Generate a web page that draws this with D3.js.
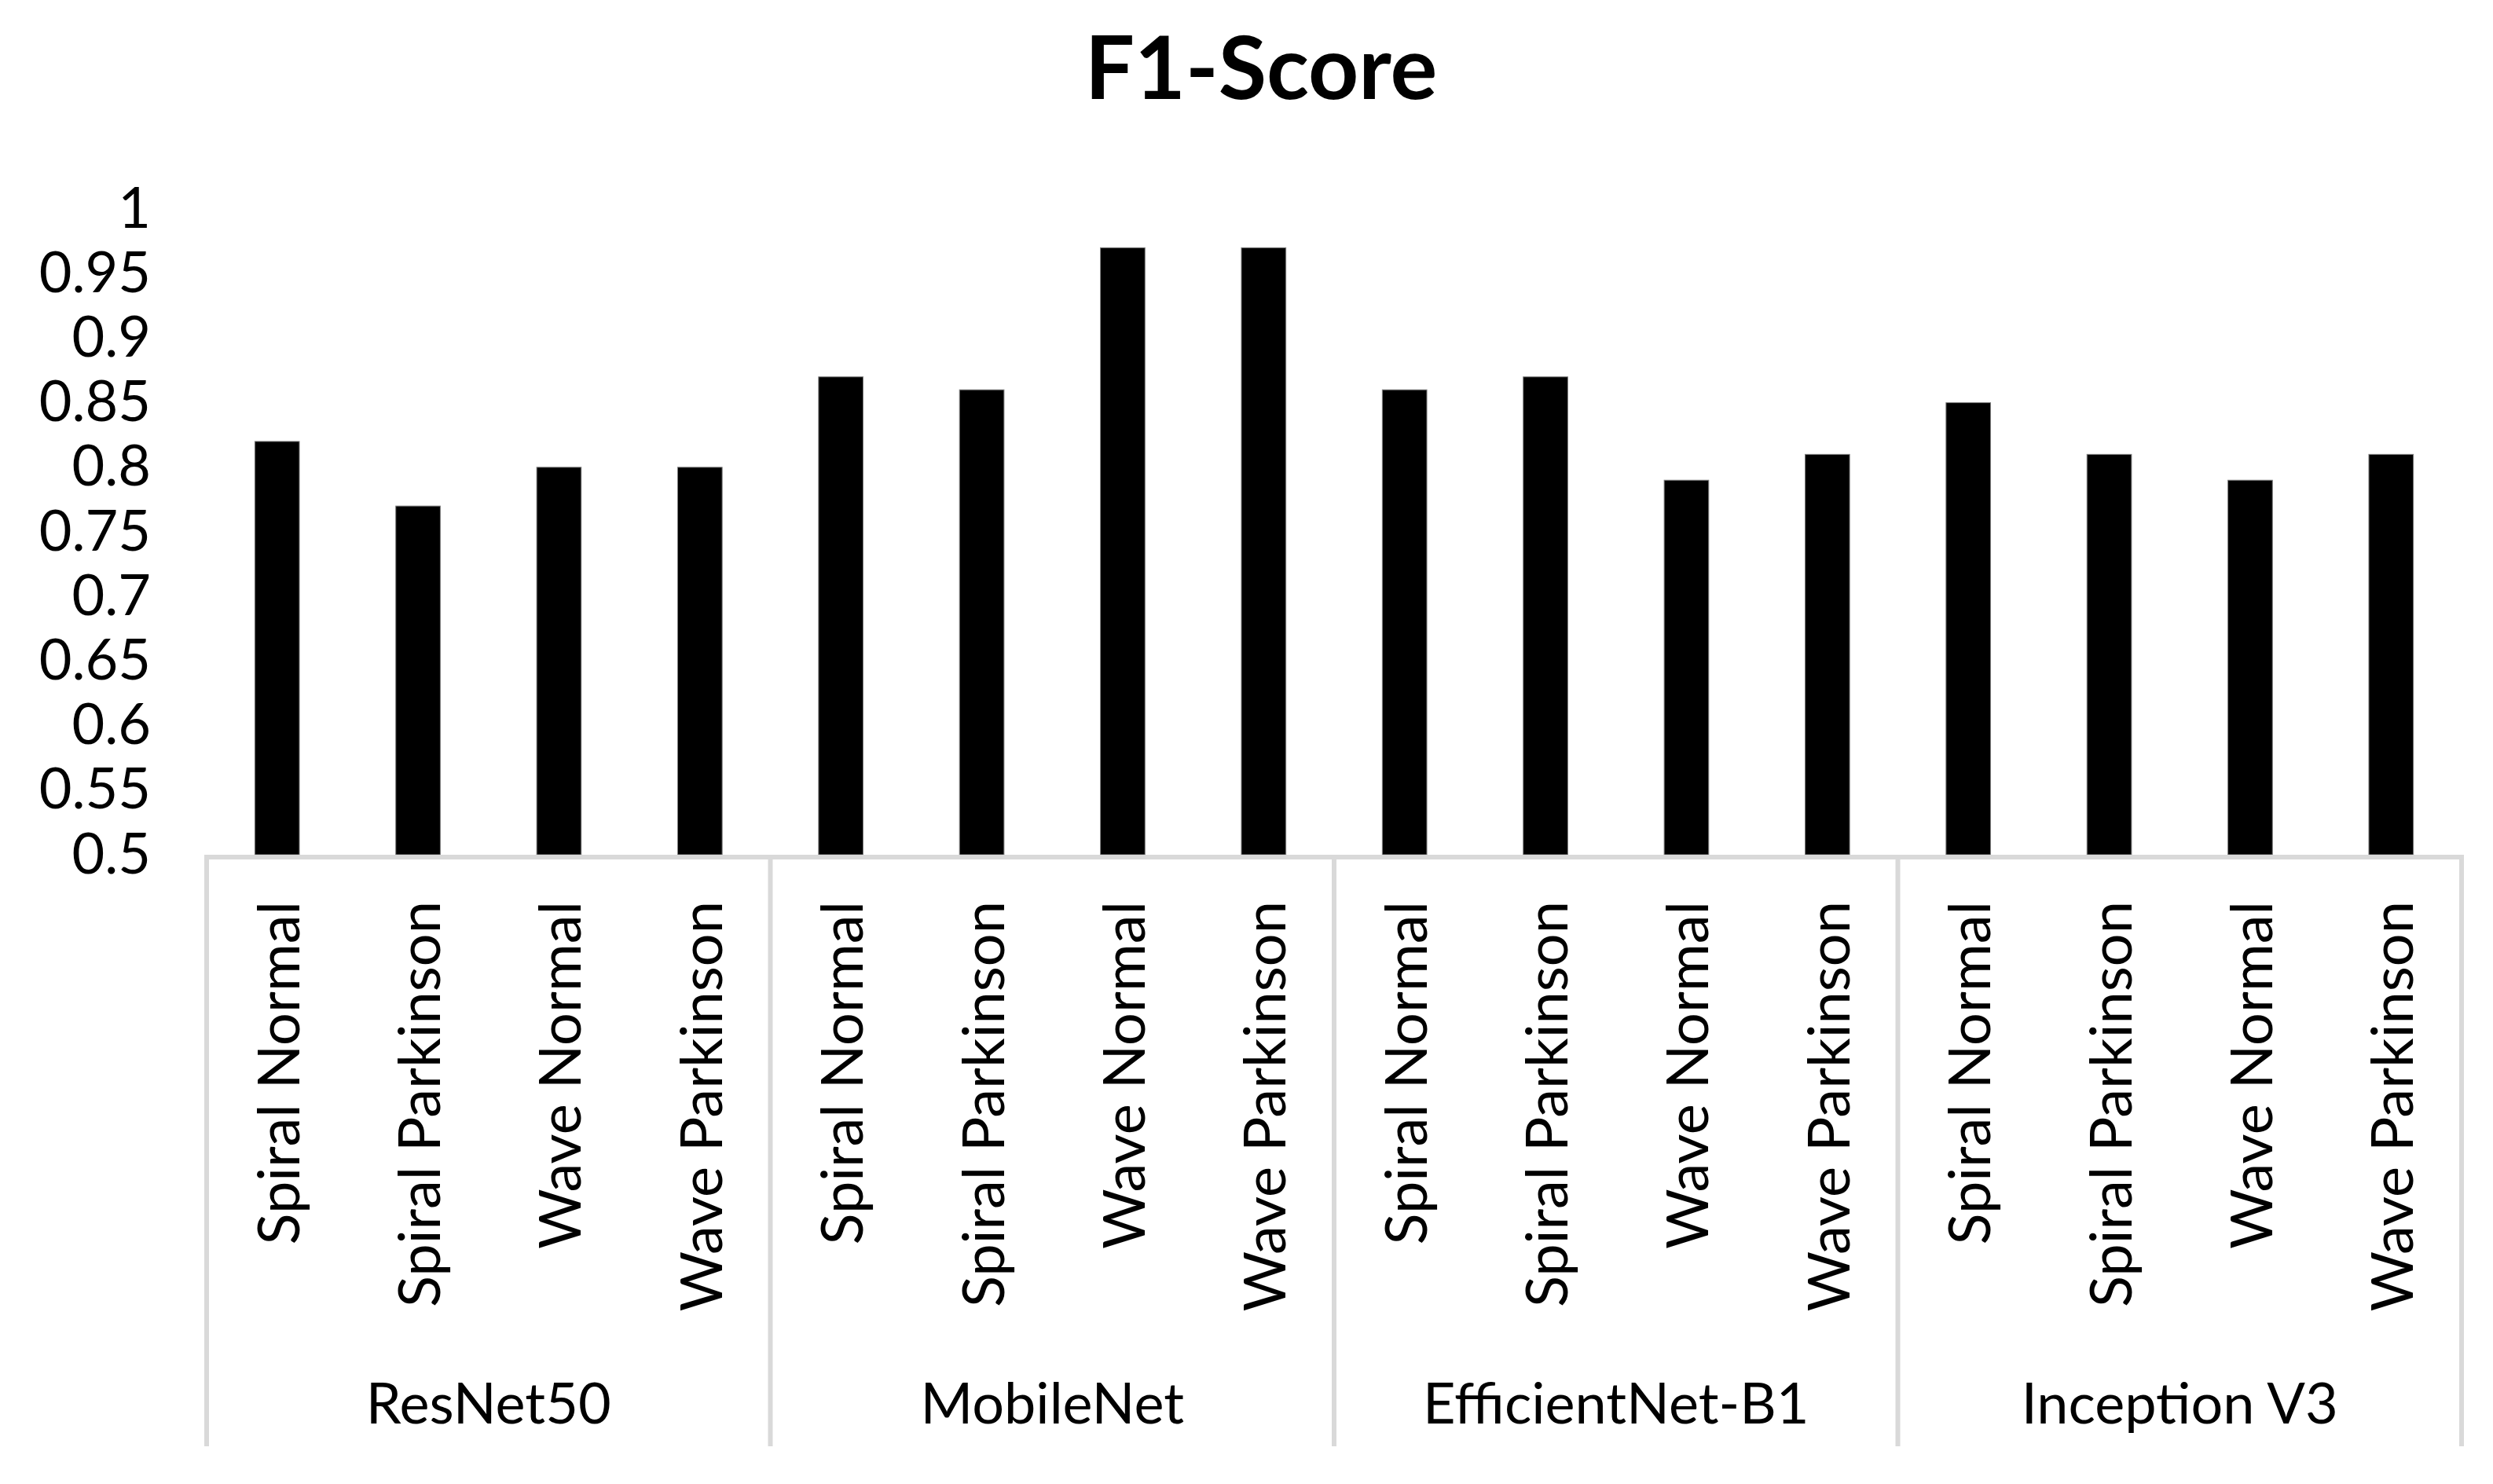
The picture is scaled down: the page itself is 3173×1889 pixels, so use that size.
<!DOCTYPE html>
<html>
<head>
<meta charset="utf-8">
<script src="https://cdn.jsdelivr.net/npm/d3@7"></script>
<style>
  html, body { margin: 0; padding: 0; background: #ffffff; }
  svg { display: block; }
</style>
</head>
<body>
<script>
// ---- data ----
const groups = ["ResNet50", "MobileNet", "EfficientNet-B1", "Inception V3"];
const subCategories = ["Spiral Normal", "Spiral Parkinson", "Wave Normal", "Wave Parkinson"];
const resnet50 = [0.82, 0.77, 0.80, 0.80];
const mobilenet = [0.87, 0.86, 0.97, 0.97];
const efficientnetB1 = [0.86, 0.87, 0.79, 0.81];
const inceptionV3 = [0.85, 0.81, 0.79, 0.81];
const yTicks = [0.5, 0.55, 0.6, 0.65, 0.7, 0.75, 0.8, 0.85, 0.9, 0.95, 1];
const chartTitle = "F1-Score";

(function () {
  // ---- build rows ----
  const seriesByGroup = [resnet50, mobilenet, efficientnetB1, inceptionV3];
  const rows = [];
  groups.forEach((g, gi) => {
    subCategories.forEach((s, si) => {
      rows.push({ key: g + "|" + s, group: g, sub: s, value: seriesByGroup[gi][si] });
    });
  });

  // ---- layout ----
  const W = 3173, H = 1889;
  const plotLeft = 263, plotRight = 3133, plotTop = 266, plotBase = 1088, bottomLine = 1841;
  const font = "Lato, 'Open Sans', sans-serif";

  const svg = d3.select("body").append("svg")
    .attr("width", W).attr("height", H)
    .style("background", "#ffffff");

  const x = d3.scaleBand().domain(rows.map(d => d.key)).range([plotLeft, plotRight]).padding(0);
  const y = d3.scaleLinear().domain([0.5, 1]).range([plotBase, plotTop]);
  const barW = x.step() * 0.316;

  // title
  svg.append("text")
    .attr("x", 1605).attr("y", 126)
    .attr("text-anchor", "middle")
    .style("font-family", font).style("font-weight", 700).style("font-size", "112px")
    .attr("fill", "#000")
    .text(chartTitle);

  // y axis (labels only)
  const yAxis = d3.axisLeft(y).tickValues(yTicks).tickFormat(d => String(+d.toFixed(2))).tickSize(0).tickPadding(0);
  const yg = svg.append("g").attr("transform", "translate(192,0)").call(yAxis);
  yg.select(".domain").remove();
  yg.selectAll("text")
    .style("font-family", font).style("font-size", "72px").attr("fill", "#000");

  // bars
  svg.append("g").selectAll("rect").data(rows).join("rect")
    .attr("x", d => x(d.key) + (x.step() - barW) / 2)
    .attr("y", d => y(d.value))
    .attr("width", barW)
    .attr("height", d => y(0.5) - y(d.value))
    .attr("fill", "#000")
    .attr("stroke", "#7f7f7f").attr("stroke-width", 1);

  // category axis line
  const lineColor = "#d9d9d9";
  svg.append("line")
    .attr("x1", plotLeft).attr("x2", plotRight)
    .attr("y1", plotBase + 3).attr("y2", plotBase + 3)
    .attr("stroke", lineColor).attr("stroke-width", 6);

  // group separators
  const boundaries = groups.map(g => x(g + "|" + subCategories[0])).concat([plotRight]);
  svg.append("g").selectAll("line").data(boundaries).join("line")
    .attr("x1", d => d).attr("x2", d => d)
    .attr("y1", plotBase).attr("y2", bottomLine)
    .attr("stroke", lineColor).attr("stroke-width", 6);

  // rotated sub-category labels
  svg.append("g").selectAll("text").data(rows).join("text")
    .attr("transform", d => `translate(${x(d.key) + x.step() / 2 + 28},1147) rotate(-90)`)
    .attr("text-anchor", "end")
    .style("font-family", font).style("font-size", "74px")
    .attr("fill", "#000")
    .text(d => d.sub);

  // group labels
  svg.append("g").selectAll("text").data(groups).join("text")
    .attr("x", (g, i) => (boundaries[i] + boundaries[i + 1]) / 2)
    .attr("y", 1812)
    .attr("text-anchor", "middle")
    .style("font-family", font).style("font-size", "72px")
    .attr("fill", "#000")
    .text(g => g);
})();
</script>
</body>
</html>
